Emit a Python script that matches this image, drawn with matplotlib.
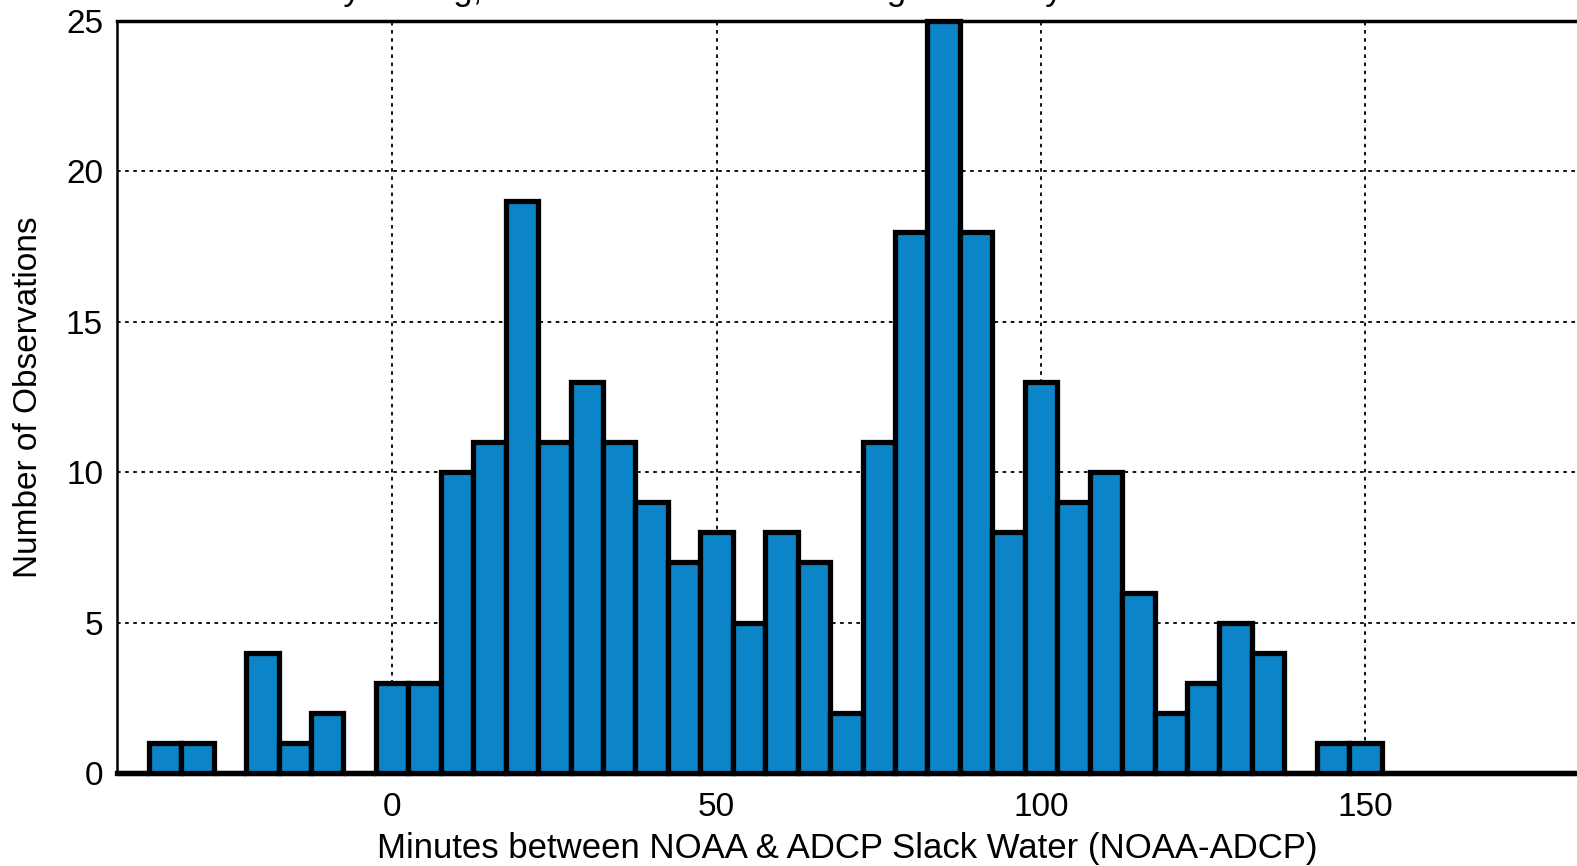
import numpy as np
import matplotlib
matplotlib.use("Agg")
import matplotlib.pyplot as plt

plt.rcParams["font.family"] = ["Liberation Sans", "DejaVu Sans"]

# 5-minute bins, labelled by bin centre (minutes, NOAA - ADCP)
bin_centres = np.arange(-40, 185, 5)
counts = [
    0, 1, 1, 0, 4, 1, 2, 0,          # -40 .. -5
    3, 3, 10, 11, 19, 11, 13, 11,    # 0 .. 35
    9, 7, 8, 5, 8, 7, 2, 11,         # 40 .. 75
    18, 25, 18, 8, 13, 9, 10, 6,     # 80 .. 115
    2, 3, 5, 4, 0, 1, 1, 0,          # 120 .. 155
    0, 0, 0, 0, 0,                   # 160 .. 180
]
bin_width = 5

title = "Slack Delay Timing, NOAA Minus ADCP Timing at Survey"
xlabel = "Minutes between NOAA & ADCP Slack Water (NOAA-ADCP)"
ylabel = "Number of Observations"

fig = plt.figure(figsize=(15.77, 8.66), dpi=100)
W, H = 1577, 866
left, right, top, bottom = 117, 1577, 21, 773
ax = fig.add_axes([left / W, 1 - bottom / H, (right - left) / W, (bottom - top) / H])

ax.bar(bin_centres, counts, width=bin_width, color="#0B84C8",
       edgecolor="black", linewidth=3.8, zorder=3, clip_on=False)

ax.set_xlim(-42.4, 182.6)
ax.set_ylim(0, 25)
ax.set_xticks([0, 50, 100, 150])
ax.set_yticks(np.arange(0, 26, 5))
ax.grid(True, color="black", linestyle=(0, (2, 2.5)), linewidth=1.3, zorder=1)
ax.tick_params(direction="in", length=0, labelsize=24)
ax.tick_params(axis="x", pad=14)
ax.tick_params(axis="y", pad=10)

ax.spines["right"].set_visible(False)
ax.spines["left"].set_linewidth(1.8)
ax.spines["top"].set_linewidth(2.5)
ax.spines["bottom"].set_linewidth(3.8)

ax.set_xlabel(xlabel, fontsize=25, labelpad=6)
ax.set_ylabel(ylabel, fontsize=24, labelpad=16)

# title sits just above the top edge of the canvas
fig.text(0.393, 1.0, title, fontsize=25, ha="center", va="baseline")

fig.savefig("out.png", dpi=100)
